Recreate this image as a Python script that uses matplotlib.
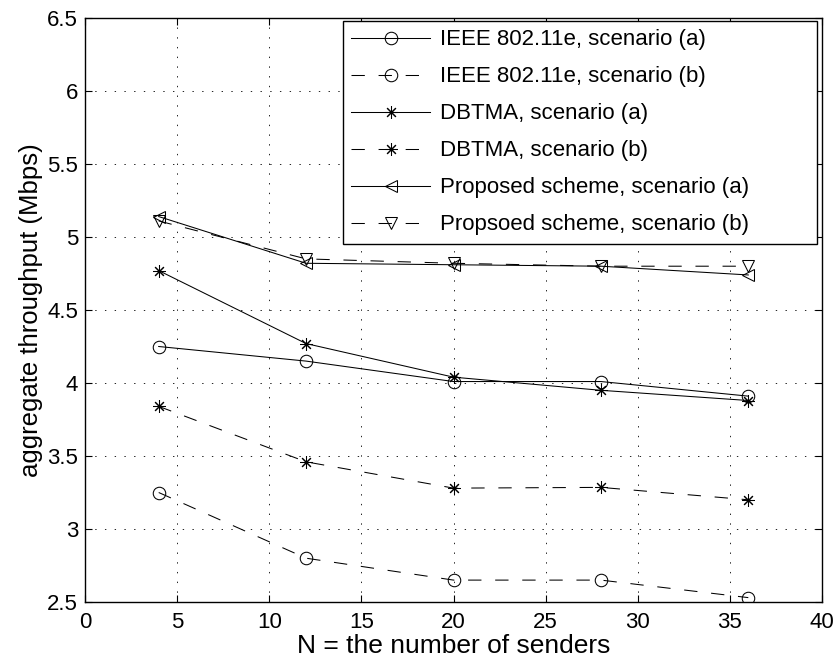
import matplotlib
matplotlib.use("Agg")
import matplotlib.pyplot as plt

plt.rcParams['font.family'] = ['Liberation Sans', 'DejaVu Sans']
plt.rcParams['lines.scale_dashes'] = False

N = [4, 12, 20, 28, 36]
ieee_a = [4.25, 4.15, 4.01, 4.01, 3.91]
ieee_b = [3.25, 2.80, 2.65, 2.65, 2.53]
dbtma_a = [4.77, 4.27, 4.04, 3.95, 3.88]
dbtma_b = [3.84, 3.46, 3.28, 3.285, 3.20]
prop_a = [5.14, 4.82, 4.81, 4.80, 4.74]
prop_b = [5.11, 4.85, 4.82, 4.80, 4.80]

labels = ['IEEE 802.11e, scenario (a)', 'IEEE 802.11e, scenario (b)',
          'DBTMA, scenario (a)', 'DBTMA, scenario (b)',
          'Proposed scheme, scenario (a)', 'Propsoed scheme, scenario (b)']
xticks = [0, 5, 10, 15, 20, 25, 30, 35, 40]
yticks = [2.5, 3, 3.5, 4, 4.5, 5, 5.5, 6, 6.5]
yticklabels = ['2.5', '3', '3.5', '4', '4.5', '5', '5.5', '6', '6.5']

fig = plt.figure(figsize=(8.38, 6.67), dpi=100)
ax = fig.add_axes([85/838, 1-602/667, (822-85)/838, (602-18)/667])

dash = (0, (9.6, 9.9))
ms = 9
lw = 0.75
star = (8, 2, 0)
common = dict(color='black', lw=lw, ms=ms, mfc='none', mec='black', mew=0.75)
ax.plot(N, ieee_a, '-', marker='o', label=labels[0], **common)
ax.plot(N, ieee_b, linestyle=dash, marker='o', label=labels[1], **common)
ax.plot(N, dbtma_a, '-', marker=star, label=labels[2], **common)
ax.plot(N, dbtma_b, linestyle=dash, marker=star, label=labels[3], **common)
ax.plot(N, prop_a, '-', marker='<', label=labels[4], **common)
ax.plot(N, prop_b, linestyle=dash, marker='v', label=labels[5], **common)

ax.set_xlim(0, 40)
ax.set_ylim(2.5, 6.5)
ax.set_xticks(xticks)
ax.set_xticklabels([str(t) for t in xticks])
ax.set_yticks(yticks)
ax.set_yticklabels(yticklabels)
ax.tick_params(direction='in', top=True, right=True, labelsize=16, length=5, width=0.8)
ax.tick_params(axis='x', pad=7)
ax.tick_params(axis='y', pad=5)
ax.grid(True, color='black', linestyle=(0, (1, 6)), linewidth=0.6)
for s in ax.spines.values():
    s.set_linewidth(1.0)

ax.set_xlabel('N = the number of senders', fontsize=19, labelpad=1)
ax.set_ylabel('aggregate throughput (Mbps)', fontsize=18.5, labelpad=3)

leg_left = (343 - 85) / 737
leg_right = (817 - 85) / 737
leg_top = (602 - 21) / 584
leg = ax.legend(loc='upper left', bbox_to_anchor=(leg_left, 0.0, leg_right - leg_left, leg_top),
                mode='expand', borderaxespad=0.0,
                fontsize=16, handlelength=3.55, handletextpad=0.45,
                labelspacing=0.72, fancybox=False, framealpha=1,
                edgecolor='black', borderpad=0.38)
leg.get_frame().set_linewidth(1.0)

fig.savefig('out.png', dpi=100)
